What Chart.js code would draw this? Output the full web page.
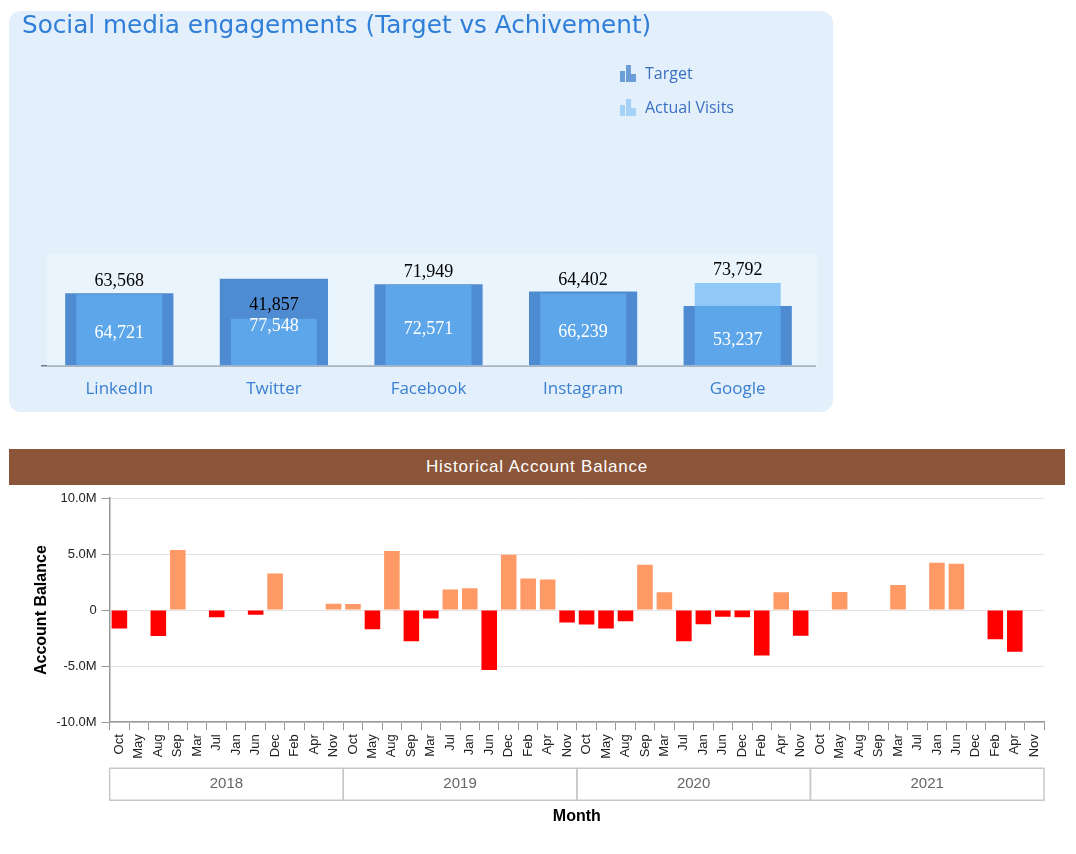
<!DOCTYPE html>
<html>
<head>
<meta charset="utf-8">
<title>Social media engagements / Historical Account Balance</title>
<script src="https://cdn.jsdelivr.net/npm/chart.js@4.4.1/dist/chart.umd.min.js"></script>
<style>
    body { margin: 0; background: #ffffff; font-family: 'Liberation Sans', Arial, sans-serif; }
    #socialPanel {
        position: absolute; left: 9px; top: 11px; width: 824px; height: 401px;
        background: #e3f0fb; border-radius: 12px; overflow: hidden;
    }
    #socialChart { position: absolute; left: 0; top: 0; }
    #socialLegend { position: absolute; left: 611px; top: 51px; }
    .legend-item { display: flex; align-items: center; height: 22px; margin-bottom: 12px;
        font-family: 'Open Sans', sans-serif; font-size: 16px; color: #3b6fc0; }
    .legend-icon { position: relative; width: 17px; height: 17px; margin-right: 8px; }
    .legend-icon span { position: absolute; bottom: 0; width: 5px; }
    #balanceHeader {
        position: absolute; left: 9px; top: 449px; width: 1056px; height: 36px;
        background: #8b5539; color: #ffffff; text-align: center; line-height: 36px;
        font-size: 17px; letter-spacing: 0.8px;
    }
    #balanceWrap { position: absolute; left: 9px; top: 485px; width: 1056px; height: 360px; }
</style>
</head>
<body>
<div id="socialPanel">
    <canvas id="socialChart" width="824" height="401"></canvas>
    <div id="socialLegend"></div>
</div>
<div id="balanceHeader">Historical Account Balance</div>
<div id="balanceWrap"><canvas id="balanceChart"></canvas></div>

<script>
// ---- Social media data ----
const platforms = ['LinkedIn', 'Twitter', 'Facebook', 'Instagram', 'Google'];
const targetValues = [64721, 77548, 72571, 66239, 53237];
const actualValues = [63568, 41857, 71949, 64402, 73792];

// ---- Account balance data ----
const monthLabels = [
    'Oct', 'May', 'Aug', 'Sep', 'Mar', 'Jul', 'Jan', 'Jun', 'Dec', 'Feb', 'Apr', 'Nov',
    'Oct', 'May', 'Aug', 'Sep', 'Mar', 'Jul', 'Jan', 'Jun', 'Dec', 'Feb', 'Apr', 'Nov',
    'Oct', 'May', 'Aug', 'Sep', 'Mar', 'Jul', 'Jan', 'Jun', 'Dec', 'Feb', 'Apr', 'Nov',
    'Oct', 'May', 'Aug', 'Sep', 'Mar', 'Jul', 'Jan', 'Jun', 'Dec', 'Feb', 'Apr', 'Nov'
];
const yearLabels = ['2018', '2019', '2020', '2021'];
const monthsPerYear = [12, 12, 12, 12];
const balanceValues = [
    -1650000, null, -2300000, 5360000, null, -630000, null, -420000, 3260000, null, null, 570000,
    540000, -1700000, 5270000, -2780000, -750000, 1830000, 1950000, -5330000, 4940000, 2810000, 2720000, -1100000,
    -1290000, -1650000, -1000000, 4040000, 1590000, -2780000, -1260000, -600000, -630000, -4040000, 1590000, -2280000,
    null, 1620000, null, null, 2250000, null, 4220000, 4130000, null, -2600000, -3710000, null
];

const TARGET_COLOR = '#4f8bd1';
const ACTUAL_COLOR = 'rgba(100, 179, 244, 0.67)';

// plot band behind the bars
const plotBand = {
    id: 'plotBand',
    beforeDatasetsDraw(chart) {
        const a = chart.chartArea;
        const ctx = chart.ctx;
        ctx.save();
        ctx.fillStyle = '#e9f4fd';
        ctx.fillRect(a.left + 5, a.top, a.right - a.left - 3, a.bottom - a.top);
        ctx.restore();
    }
};

// value labels: target inside the bar (white), actual above its bar (black)
const valueLabels = {
    id: 'valueLabels',
    afterDatasetsDraw(chart) {
        const ctx = chart.ctx;
        ctx.save();
        ctx.font = '18px "Liberation Serif", serif';
        ctx.textAlign = 'center';
        ctx.textBaseline = 'middle';
        chart.data.datasets.forEach((ds, di) => {
            const meta = chart.getDatasetMeta(di);
            meta.data.forEach((bar, i) => {
                const text = Number(ds.data[i]).toLocaleString('en-US');
                if (ds.label === 'Target') {
                    ctx.fillStyle = '#ffffff';
                    ctx.fillText(text, bar.x, (bar.y + bar.base) / 2 + 4);
                } else {
                    ctx.fillStyle = '#000000';
                    ctx.fillText(text, bar.x, bar.y - 13);
                }
            });
        });
        ctx.restore();
    }
};

const socialChart = new Chart(document.getElementById('socialChart'), {
    type: 'bar',
    data: {
        labels: platforms,
        datasets: [
            {
                label: 'Target',
                data: targetValues,
                backgroundColor: TARGET_COLOR,
                barPercentage: 0.7,
                categoryPercentage: 1,
                grouped: false,
                order: 1
            },
            {
                label: 'Actual Visits',
                data: actualValues,
                backgroundColor: ACTUAL_COLOR,
                barPercentage: 0.556,
                categoryPercentage: 1,
                grouped: false,
                order: 0
            }
        ]
    },
    options: {
        responsive: false,
        animation: false,
        layout: { padding: { left: 13, right: 18, top: 0, bottom: 0 } },
        plugins: {
            legend: { display: false },
            tooltip: { enabled: false },
            title: {
                display: true,
                text: 'Social media engagements (Target vs Achivement)',
                align: 'start',
                color: '#2f7ed8',
                font: { family: '"DejaVu Sans", sans-serif', size: 24.7, weight: 'normal' },
                padding: { top: 1, bottom: 212 }
            }
        },
        scales: {
            x: {
                grid: { display: false, drawTicks: false },
                border: { display: true, color: '#6f7b8a', width: 1.5 },
                ticks: {
                    color: '#3a7fd0',
                    padding: 13,
                    font: { family: '"Open Sans", sans-serif', size: 17 }
                }
            },
            y: {
                min: 0,
                max: 100000,
                grid: { display: false },
                border: { display: false },
                ticks: { display: false },
                afterFit(scale) { scale.width = 20; }
            }
        }
    },
    plugins: [plotBand, valueLabels]
});

// HTML legend built from the chart's datasets
const legendIconColors = { 'Target': '#6b9ed8', 'Actual Visits': '#a5d2f6' };
const legendBox = document.getElementById('socialLegend');
socialChart.data.datasets.forEach(ds => {
    const c = legendIconColors[ds.label];
    legendBox.innerHTML += `
        <div class="legend-item">
            <div class="legend-icon">
                <span style="left:0;height:11px;background:${c}"></span>
                <span style="left:5.5px;height:17px;background:${c}"></span>
                <span style="left:11px;height:8px;background:${c}"></span>
            </div>${ds.label}
        </div>`;
});

// year group boxes under the month labels
const yearBoxes = {
    id: 'yearBoxes',
    afterDraw(chart) {
        const x = chart.scales.x;
        const ctx = chart.ctx;
        const half = (x.getPixelForValue(1) - x.getPixelForValue(0)) / 2;
        const top = chart.chartArea.bottom + 46;
        const h = 32;
        let start = 0;
        ctx.save();
        ctx.strokeStyle = '#c8c8c8';
        ctx.lineWidth = 1.5;
        ctx.fillStyle = '#666666';
        ctx.font = '15px "Liberation Sans", Arial, sans-serif';
        ctx.textAlign = 'center';
        ctx.textBaseline = 'middle';
        yearLabels.forEach((yr, k) => {
            const left = x.getPixelForValue(start) - half;
            const right = x.getPixelForValue(start + monthsPerYear[k] - 1) + half;
            ctx.strokeRect(left, top, right - left, h);
            ctx.fillText(yr, (left + right) / 2, top + h / 2);
            start += monthsPerYear[k];
        });
        ctx.restore();
    }
};

new Chart(document.getElementById('balanceChart'), {
    type: 'bar',
    data: {
        labels: monthLabels,
        datasets: [{
            label: 'Account Balance',
            data: balanceValues,
            backgroundColor: ctx => (ctx.raw < 0 ? '#ff0000' : '#ff9966'),
            barPercentage: 0.8,
            categoryPercentage: 1
        }]
    },
    options: {
        responsive: true,
        maintainAspectRatio: false,
        animation: false,
        layout: { padding: { left: 20, right: 21, top: 13, bottom: 15 } },
        plugins: {
            legend: { display: false },
            tooltip: { enabled: false }
        },
        scales: {
            x: {
                grid: { drawOnChartArea: false, tickLength: 8, tickColor: '#999999', offset: true },
                border: { color: '#999999', width: 1.5 },
                ticks: {
                    color: '#222222',
                    autoSkip: false,
                    maxRotation: 90,
                    minRotation: 90,
                    padding: 4,
                    font: { family: '"Liberation Sans", Arial, sans-serif', size: 13 }
                },
                title: {
                    display: true,
                    text: 'Month',
                    color: '#000000',
                    font: { family: '"Liberation Sans", Arial, sans-serif', size: 16, weight: 'bold' },
                    padding: { top: 44, bottom: 4 }
                }
            },
            y: {
                min: -10000000,
                max: 10000000,
                grid: { color: '#e3e3e3', tickColor: '#999999', tickLength: 8 },
                border: { color: '#999999', width: 1.5 },
                ticks: {
                    stepSize: 5000000,
                    color: '#222222',
                    padding: 5,
                    font: { family: '"Liberation Sans", Arial, sans-serif', size: 13 },
                    callback: v => (v === 0 ? '0' : (v / 1000000).toFixed(1) + 'M')
                },
                title: {
                    display: true,
                    text: 'Account Balance',
                    color: '#000000',
                    font: { family: '"Liberation Sans", Arial, sans-serif', size: 16, weight: 'bold' },
                    padding: { top: 3, bottom: 0 }
                }
            }
        }
    },
    plugins: [yearBoxes]
});
</script>
</body>
</html>
